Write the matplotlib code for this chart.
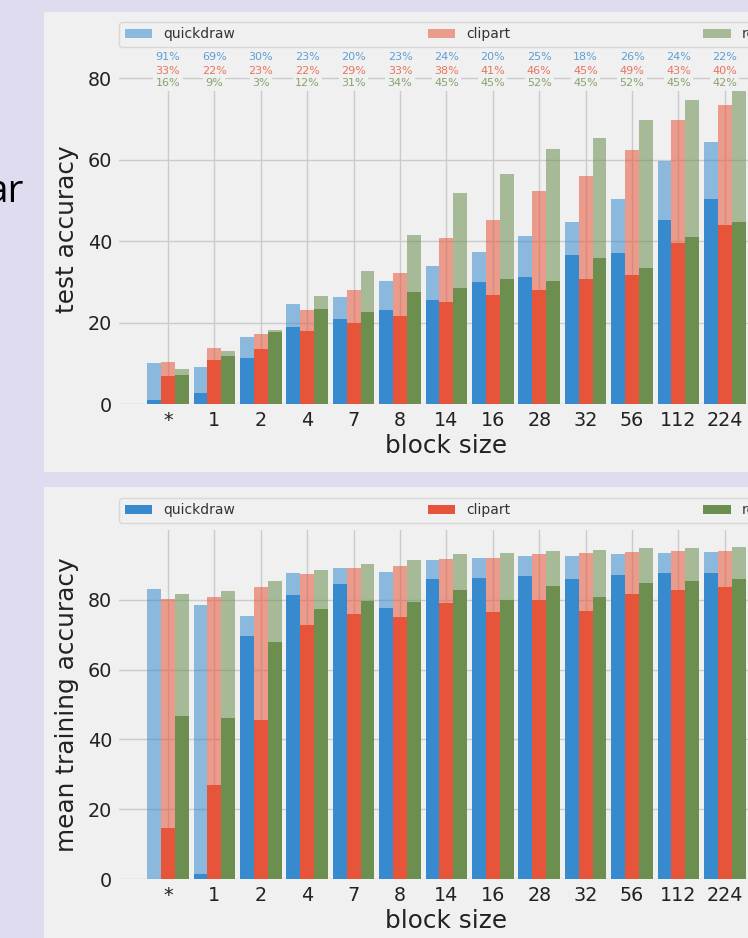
import matplotlib
matplotlib.use('Agg')
import matplotlib.pyplot as plt
from matplotlib.patches import Rectangle
import numpy as np

# ------------------------------------------------------------
# data
block_sizes = ['*', '1', '2', '4', '7', '8', '14', '16', '28', '32', '56', '112', '224']
domains = ['quickdraw', 'clipart', 'real']

# test accuracy: light = full bar, dark = overlaid bar
test_light_quickdraw = [10.0, 9.0, 16.4, 24.6, 26.3, 30.1, 33.9, 37.4, 41.4, 44.7, 50.4, 59.7, 64.3]
test_dark_quickdraw = [0.9, 2.7, 11.4, 18.8, 21.0, 23.1, 25.6, 30.0, 31.2, 36.6, 37.2, 45.3, 50.4]
test_light_clipart = [10.2, 13.7, 17.3, 23.2, 27.9, 32.1, 40.7, 45.2, 52.3, 56.0, 62.3, 69.9, 73.4]
test_dark_clipart = [6.8, 10.7, 13.4, 18.0, 19.8, 21.5, 25.1, 26.7, 28.1, 30.6, 31.6, 39.5, 44.1]
test_light_real = [8.5, 13.1, 18.3, 26.5, 32.7, 41.6, 51.9, 56.4, 62.7, 65.4, 69.9, 74.6, 77.0]
test_dark_real = [7.1, 11.9, 17.8, 23.4, 22.6, 27.4, 28.5, 30.8, 30.1, 35.9, 33.4, 41.1, 44.6]

# relative drop labels printed above each group
drop_quickdraw = [91, 69, 30, 23, 20, 23, 24, 20, 25, 18, 26, 24, 22]
drop_clipart = [33, 22, 23, 22, 29, 33, 38, 41, 46, 45, 49, 43, 40]
drop_real = [16, 9, 3, 12, 31, 34, 45, 45, 52, 45, 52, 45, 42]

# mean training accuracy
train_light_quickdraw = [83.0, 78.4, 75.4, 87.8, 89.2, 88.1, 91.5, 92.0, 92.6, 92.6, 93.2, 93.4, 93.8]
train_dark_quickdraw = [0.0, 1.4, 69.7, 81.3, 84.6, 77.7, 86.1, 86.3, 86.9, 86.1, 87.2, 87.6, 87.8]
train_light_clipart = [80.2, 80.9, 83.8, 87.3, 89.0, 89.8, 91.7, 92.0, 93.0, 93.4, 93.8, 94.1, 94.1]
train_dark_clipart = [14.7, 27.0, 45.7, 72.8, 75.8, 75.2, 79.0, 76.4, 80.0, 76.8, 81.6, 82.9, 83.6]
train_light_real = [81.6, 82.6, 85.5, 88.6, 90.3, 91.3, 93.0, 93.4, 94.1, 94.3, 94.7, 94.9, 95.1]
train_dark_real = [46.8, 46.0, 67.9, 77.3, 79.6, 79.5, 82.9, 80.0, 83.9, 80.8, 84.8, 85.5, 86.1]

# ------------------------------------------------------------
colors = ['#388ace', '#e6553a', '#6c8f50']
slide_bg = '#e0dcef'
panel_bg = '#f0f0f0'
grid_c = '#cbcbcb'
text_c = '#222222'

W, H = 748, 938
fig = plt.figure(figsize=(W / 100, H / 100), dpi=100)
fig.patch.set_facecolor(slide_bg)

# panel backgrounds (screenshot is cropped on the right)
fig.patches.append(Rectangle((44 / W, 1 - 472 / H), 1.0, 460 / H,
                             transform=fig.transFigure, facecolor=panel_bg,
                             edgecolor='none', zorder=-1))
fig.patches.append(Rectangle((44 / W, -0.05), 1.0, 0.05 + 1 - 487 / H,
                             transform=fig.transFigure, facecolor=panel_bg,
                             edgecolor='none', zorder=-1))

# leftover text of the slide
fig.text(24 / W, 1 - 202 / H, 'ar', ha='right', va='baseline',
         fontsize=28, family='Open Sans', color='black')


def make_axes(top_px, bottom_px):
    left, right = 119, 774
    ax = fig.add_axes([left / W, 1 - bottom_px / H, (right - left) / W,
                       (bottom_px - top_px) / H])
    ax.set_facecolor(panel_bg)
    for s in ax.spines.values():
        s.set_visible(False)
    ax.grid(True, color=grid_c, lw=1)
    ax.set_axisbelow(True)
    ax.tick_params(length=0, labelsize=13.8, colors=text_c, pad=5)
    return ax


def draw_bars(ax, lights, darks):
    x = np.arange(len(block_sizes))
    width = 0.3
    light_bars, dark_bars = [], []
    for i, (lt, dk) in enumerate(zip(lights, darks)):
        pos = x + (i - 1) * width
        lb = ax.bar(pos, lt, width=width, color=colors[i], alpha=0.55,
                    linewidth=0, label=domains[i])
        db = ax.bar(pos, dk, width=width, color=colors[i], linewidth=0,
                    label=domains[i])
        light_bars.append(lb)
        dark_bars.append(db)
    ax.set_xticks(x)
    ax.set_xticklabels(block_sizes)
    ax.set_xlim(-1.056, 13.06)
    ax.set_xlabel('block size', fontsize=17.8, color=text_c, labelpad=3)
    return light_bars, dark_bars


def add_legend(ax, handles):
    leg = ax.legend(handles, domains, bbox_to_anchor=(0, 1.02, 1, 0.102),
                    loc='lower left', ncol=3, mode='expand', borderaxespad=0,
                    fontsize=10, facecolor=panel_bg, edgecolor='#d8d8d8',
                    framealpha=1)
    for t in leg.get_texts():
        t.set_color('#333333')


# 1) test accuracy
ax1 = make_axes(54, 404)
lb, db = draw_bars(ax1, [test_light_quickdraw, test_light_clipart, test_light_real],
                   [test_dark_quickdraw, test_dark_clipart, test_dark_real])
ax1.set_ylim(0, 86)
ax1.set_yticks([0, 20, 40, 60, 80])
ax1.set_ylabel('test accuracy', fontsize=17.8, color=text_c, labelpad=6)
add_legend(ax1, lb)

row_y = [85.3, 81.9, 78.8]
for i, drops in enumerate([drop_quickdraw, drop_clipart, drop_real]):
    for j, p in enumerate(drops):
        ax1.text(j, row_y[i], f'{p}%', ha='center', va='center', fontsize=8,
                 color=colors[i], alpha=0.8,
                 bbox=dict(boxstyle='square,pad=0.2', facecolor=panel_bg,
                           edgecolor='none'))

# 2) mean training accuracy
ax2 = make_axes(530, 879)
lb, db = draw_bars(ax2, [train_light_quickdraw, train_light_clipart, train_light_real],
                   [train_dark_quickdraw, train_dark_clipart, train_dark_real])
ax2.set_ylim(0, 100)
ax2.set_yticks([0, 20, 40, 60, 80])
ax2.set_ylabel('mean training accuracy', fontsize=17.8, color=text_c, labelpad=6)
add_legend(ax2, db)

fig.savefig('out.png', dpi=100, facecolor=fig.get_facecolor())
